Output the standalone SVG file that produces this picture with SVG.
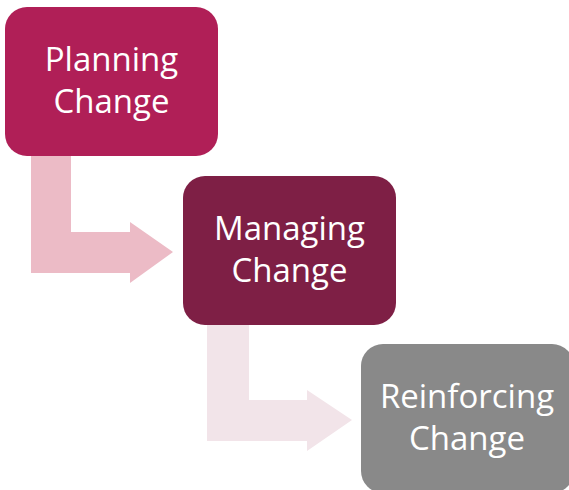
<svg xmlns="http://www.w3.org/2000/svg" width="569" height="490" viewBox="0 0 569 490">
<style>
.t{font-family:"Open Sans","Liberation Sans",sans-serif;font-size:33px;fill:#FFFFFF;text-anchor:middle}
</style>
<rect width="569" height="490" fill="#FFFFFF"/>
<g id="connectors">
<path d="M31,150 H71 V232 H130 V222 L173,252 L130,283 V273 H31 Z" fill="#ECBBC6"/>
<path d="M207,318 H249 V400 H307 V390 L352,420 L307,451 V441 H207 Z" fill="#F2E4E9"/>
</g>
<g id="planning">
<rect x="5" y="7" width="213" height="149" rx="22" fill="#B01F57"/>
<text class="t" x="111.5" y="71">Planning</text>
<text class="t" x="111.5" y="113">Change</text>
</g>
<g id="managing">
<rect x="183" y="176" width="213" height="149" rx="22" fill="#7E1F45"/>
<text class="t" x="289.5" y="240">Managing</text>
<text class="t" x="289.5" y="282">Change</text>
</g>
<g id="reinforcing">
<rect x="361" y="344" width="213" height="149" rx="22" fill="#898989"/>
<text class="t" x="467" y="408">Reinforcing</text>
<text class="t" x="467" y="450">Change</text>
</g>
</svg>
